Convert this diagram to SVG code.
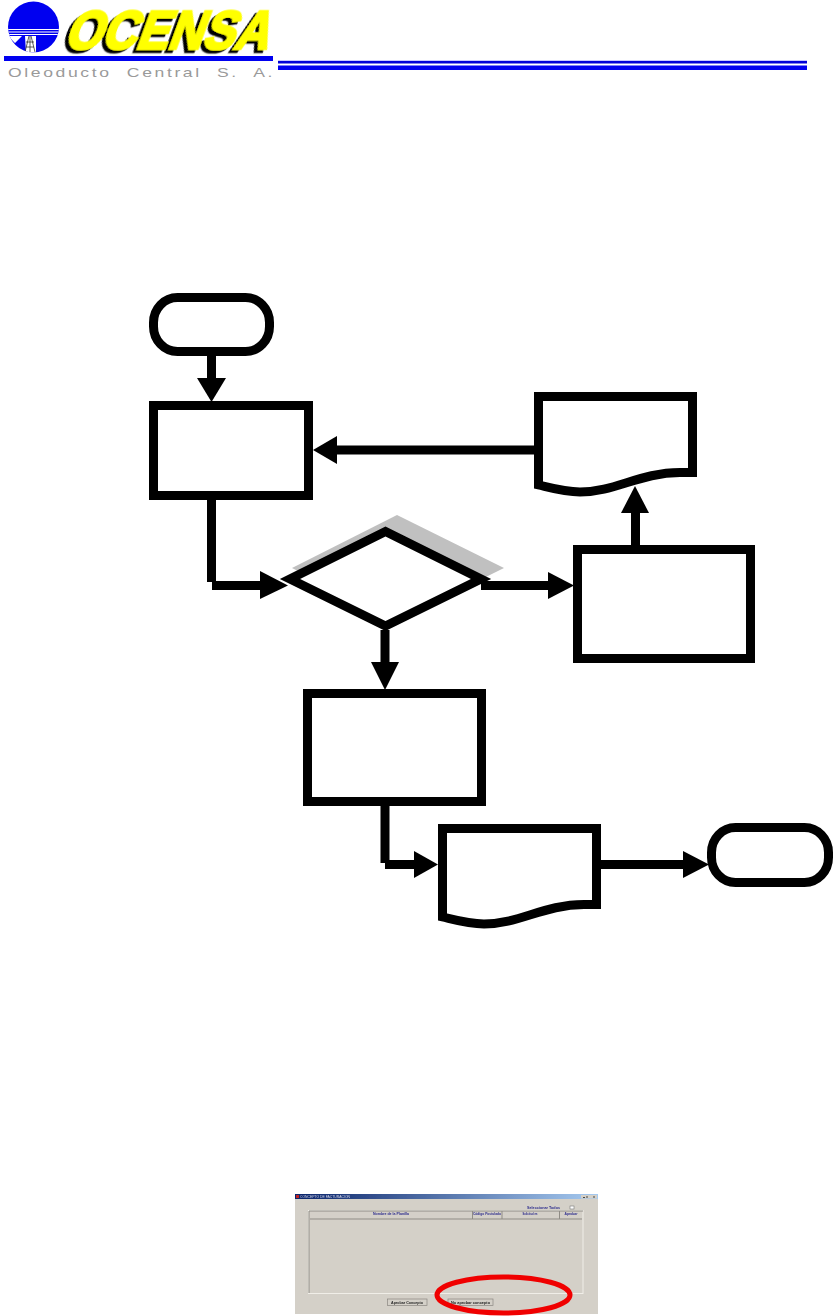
<svg xmlns="http://www.w3.org/2000/svg" width="833" height="1316" viewBox="0 0 833 1316">
<style>
.s{fill:#fff;stroke:#000;stroke-width:9;stroke-miterlimit:10}
.c{fill:none;stroke:#000;stroke-width:9}
.h{fill:#000;stroke:none}
.u{font-family:"Liberation Sans",Arial,sans-serif;font-size:3.8px;font-weight:bold;fill:#2a2a8c}
.b{fill:#d4d0c8;stroke:#8a8780;stroke-width:.7}
.g{stroke:#8f8c85;stroke-width:1;fill:none}
</style>
<defs>
<linearGradient id="tb" x1="0" x2="1" y1="0" y2="0"><stop offset="0" stop-color="#0a246a"/><stop offset="1" stop-color="#a6caf0"/></linearGradient>
<filter id="sh" x="-5%" y="-10%" width="110%" height="125%"><feDropShadow dx="-3" dy="3" stdDeviation="0" flood-color="#000"/></filter>
<filter id="bl" x="-2%" y="-2%" width="104%" height="104%"><feGaussianBlur stdDeviation=".5"/></filter>
<clipPath id="cc"><circle cx="33.5" cy="27" r="25.5"/></clipPath>
</defs>
<rect width="833" height="1316" fill="#fff"/>
<g id="logo">
<circle cx="33.5" cy="27" r="25.5" fill="#0000f0"/>
<g clip-path="url(#cc)">
<path d="M0 29.500H60M0 32H60M0 34.500H60" stroke="#fff" stroke-width="1"/>
<path d="M8 36L15 43L22 36H36V53H26L25 36Z" fill="#fff"/>
<path d="M29 36L25 52M31 36L35 52M26 42H34M26 47H34M30 36V52" stroke="#333" stroke-width=".8" fill="none"/>
</g>
<text transform="skewX(-20)" x="81" y="49" textLength="204" lengthAdjust="spacingAndGlyphs" font-family="'Liberation Sans',Arial,sans-serif" font-size="54" font-weight="bold" fill="#ffff00" stroke="#ffff00" stroke-width="2.500" filter="url(#sh)">OCENSA</text>
<rect x="4" y="56" width="269" height="5" fill="#0000f0"/>
<text x="8" y="77" textLength="267" lengthAdjust="spacingAndGlyphs" letter-spacing="2" word-spacing="6" font-family="'Liberation Sans',Arial,sans-serif" font-size="13.500" fill="#9a9a9a">Oleoducto Central S. A.</text>
<rect x="278" y="60" width="529" height="1" fill="#c8c8ff"/>
<rect x="278" y="61" width="529" height="2.500" fill="#0000d8"/>
<rect x="278" y="65.500" width="529" height="4.500" fill="#0000f0"/>
</g>
<g id="connectors">
<path class="c" d="M211.500 356V380"/><path class="h" d="M197 378H226L211.500 402Z"/>
<path class="c" d="M536 450H335"/><path class="h" d="M337 436V464L313 450Z"/>
<path class="c" d="M211.500 500V582M212 585.500H262"/><path class="h" d="M260 571L288 585.500L260 599Z"/>
<path class="c" d="M481 585.500H550"/><path class="h" d="M548 572L574 585.500L548 599Z"/>
<path class="c" d="M635.500 545V511"/><path class="h" d="M621 513H649L635 486Z"/>
<path class="c" d="M385 630V664"/><path class="h" d="M371 662H399L385 690Z"/>
<path class="c" d="M385 806V863M385 864.500H416"/><path class="h" d="M414 851L438 864.500L414 878Z"/>
<path class="c" d="M601 864.500H685"/><path class="h" d="M683 851L709 864.500L683 878Z"/>
</g>
<g id="start"><rect class="s" x="153.500" y="297.500" width="116" height="54" rx="24" ry="25"/></g>
<g id="box1"><rect class="s" x="153.500" y="405.500" width="155" height="90"/></g>
<g id="doc1"><path class="s" d="M538.500 396.500H692.500V472.500H680C640 472.500 615 492 580 492C565 492 555 489 538.500 485Z"/></g>
<g id="decision">
<path d="M397 515L504 568L397 621L292 568Z" fill="#c0c0c0"/>
<path class="s" d="M385.500 531.500L481 579L385.500 626L290 579Z"/>
</g>
<g id="box3"><rect class="s" x="577.500" y="549.500" width="173" height="109"/></g>
<g id="box4"><rect class="s" x="307.500" y="693.500" width="174" height="108"/></g>
<g id="doc2"><path class="s" d="M442.500 828.500H596.500V904.500H584C544 904.500 519 924 484 924C469 924 459 921 442.500 917Z"/></g>
<g id="end"><rect class="s" x="711.500" y="827.500" width="117" height="55" rx="24" ry="25"/></g>
<g id="screenshot">
<g filter="url(#bl)">
<rect x="295" y="1194" width="303" height="120" fill="#d4d0c8"/>
<rect x="295" y="1194" width="303" height="5" fill="url(#tb)"/>
<rect x="296" y="1195" width="3" height="3" fill="#c02020"/>
<text x="300" y="1198" font-family="'Liberation Sans',Arial,sans-serif" font-size="3.500" fill="#d8d8e8" textLength="50" lengthAdjust="spacingAndGlyphs">CONCEPTO DE FACTURACION</text>
<rect x="581" y="1195" width="16" height="3.500" fill="#d4d0c8"/>
<path d="M583 1197.500H585M587 1196V1198M594 1196V1198" stroke="#222" stroke-width=".8"/>
<text class="u" x="527" y="1209" textLength="33" lengthAdjust="spacingAndGlyphs">Seleccionar Todos</text>
<rect x="570" y="1206" width="4" height="3" fill="#fff" stroke="#777" stroke-width=".6"/>
<rect x="308.500" y="1210.500" width="274.500" height="83" fill="#d4d0c8" stroke="#f0eee8" stroke-width="1"/>
<path class="g" d="M309 1293V1211H583M310 1219H582M472.500 1211V1219M502 1211V1219M559.500 1211V1219"/>
<text class="u" x="391" y="1215" text-anchor="middle" textLength="36" lengthAdjust="spacingAndGlyphs">Nombre de la Planilla</text>
<text class="u" x="487" y="1215" text-anchor="middle" textLength="28" lengthAdjust="spacingAndGlyphs">Código Postulado</text>
<text class="u" x="530" y="1215" text-anchor="middle" textLength="15" lengthAdjust="spacingAndGlyphs">Solicitud en</text>
<text class="u" x="571" y="1215" text-anchor="middle" textLength="13" lengthAdjust="spacingAndGlyphs">Aprobar</text>
<rect class="b" x="387.500" y="1299" width="39.500" height="6.500"/>
<text class="u" x="407" y="1303.500" text-anchor="middle" style="fill:#222" textLength="32" lengthAdjust="spacingAndGlyphs">Aprobar Concepto</text>
<rect class="b" x="448" y="1299" width="45" height="6.500"/>
<text class="u" x="470.500" y="1303.500" text-anchor="middle" style="fill:#222" textLength="39" lengthAdjust="spacingAndGlyphs">No aprobar concepto</text>
</g>
<ellipse cx="503.500" cy="1295" rx="66.500" ry="18" fill="none" stroke="#f00000" stroke-width="5"/>
</g>
</svg>
